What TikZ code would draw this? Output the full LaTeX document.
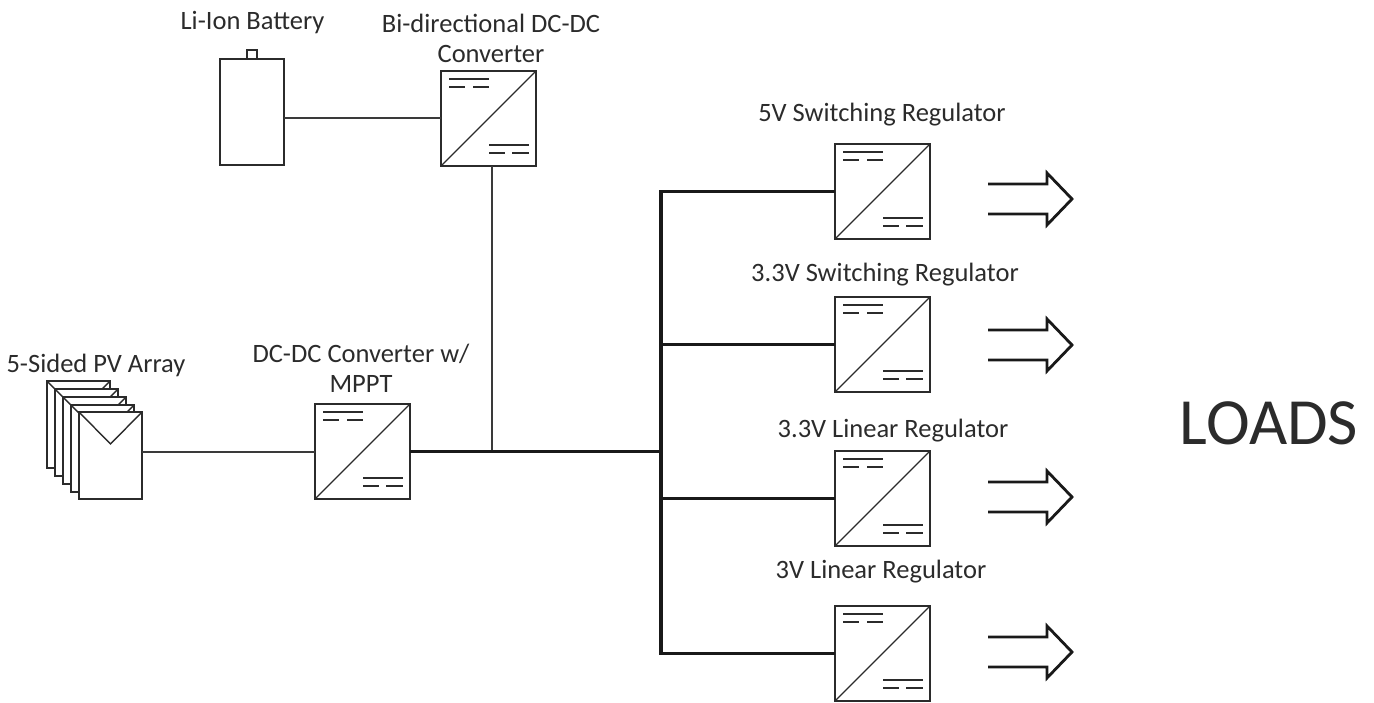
\documentclass[tikz,border=0pt]{standalone}
\usepackage{fontspec}
\setmainfont{Carlito}
\definecolor{ink}{HTML}{2B2B2B}
\definecolor{thinink}{HTML}{3A3A3A}
\tikzset{
  x=1pt,y=-1pt,
  conv/.style={draw=ink,line width=1.8pt,fill=white,inner sep=0pt,outer sep=0pt,minimum width=95pt,minimum height=95pt,anchor=north west},
  inner/.style={draw=ink,line width=1.5pt},
  thinline/.style={draw=thinink,line width=2pt},
  busline/.style={draw=black!90,line width=3.2pt},
  label/.style={text=ink,font=\fontsize{26.5}{30}\selectfont,align=center,inner sep=0pt},
  panel/.style={draw=ink,line width=1.8pt,fill=white,inner sep=0pt,outer sep=0pt,minimum width=63pt,minimum height=87pt,anchor=north west},
  arrowout/.style={draw=black!90,line width=2.8pt,line join=miter},
}
\newcommand{\convbox}[3]{%
  \node[conv] (#1) at (#2,#3) {};
  \draw[inner,line width=1.3pt] (#1.south west) -- (#1.north east);
  \draw[inner] (#2+8,#3+8) -- (#2+48,#3+8);
  \draw[inner] (#2+8,#3+16) -- (#2+24,#3+16) (#2+32,#3+16) -- (#2+48,#3+16);
  \draw[inner] (#2+48,#3+74) -- (#2+88,#3+74);
  \draw[inner] (#2+48,#3+82) -- (#2+64,#3+82) (#2+71,#3+82) -- (#2+88,#3+82);
}
\newcommand{\loadarrow}[2]{%
  \coordinate (#1a) at (988,#2-15);
  \coordinate (#1b) at (988,#2+15);
  \coordinate (#1tip) at (1072,#2);
  \draw[arrowout] (#1a) -- (1047,#2-15) -- (1047,#2-26) -- (#1tip) -- (1047,#2+26) -- (1047,#2+15) -- (#1b);
}
\newcommand{\pvpanel}[3]{%
  \node[panel] (#1) at (#2,#3) {};
  \draw[draw=ink,line width=1.4pt] (#1.north west) -- (#2+31.5,#3+32) -- (#1.north east);
}
\begin{document}
\begin{tikzpicture}
\useasboundingbox (0,0) rectangle (1374,703);
% PV array
\pvpanel{pva}{47}{381}
\pvpanel{pvb}{55}{389}
\pvpanel{pvc}{63}{397}
\pvpanel{pvd}{71}{405}
\pvpanel{pv}{79}{412}
% battery
\node[draw=ink,line width=1.8pt,inner sep=0pt,outer sep=0pt,minimum width=64pt,minimum height=106pt,anchor=north west] (batt) at (220,59) {};
\node[draw=ink,line width=1.5pt,inner sep=0pt,outer sep=0pt,minimum width=10pt,minimum height=9pt,anchor=south] (term) at (252,59) {};
% converters
\convbox{bidir}{441}{71}
\convbox{mppt}{315}{404}
\convbox{sw5}{835}{144}
\convbox{sw33}{835}{297}
\convbox{lin33}{835}{451}
\convbox{lin3}{835}{606}
% wires
\coordinate (tap) at (491.5,452);
\coordinate (bus) at (661,452);
\draw[thinline] (bidir.west -| batt.east) -- (bidir.west);
\draw[thinline] (tap |- bidir.south) -- (tap |- mppt.east);
\draw[thinline] (mppt.west -| pv.east) -- (mppt.west);
\draw[busline] (mppt.east) -- (mppt.east -| bus);
\draw[busline,line cap=rect] (bus |- sw5.west) -- (bus |- lin3.west);
\draw[busline] (bus |- sw5.west) -- (sw5.west);
\draw[busline] (bus |- sw33.west) -- (sw33.west);
\draw[busline] (bus |- lin33.west) -- (lin33.west);
\draw[busline] (bus |- lin3.west) -- (lin3.west);
% load arrows
\loadarrow{aa}{199}
\loadarrow{ab}{345}
\loadarrow{ac}{497}
\loadarrow{ad}{652}
% labels
\node[label] (tbatt) at (252.5,23) {Li-Ion Battery};
\node[label] (tbidir) at (491,38.5) {Bi-directional DC-DC\\Converter};
\node[label] (tsw5) at (882,115) {5V Switching Regulator};
\node[label] (tsw33) at (885,275) {3.3V Switching Regulator};
\node[label] (tlin33) at (893,431) {3.3V Linear Regulator};
\node[label] (tlin3) at (881,572) {3V Linear Regulator};
\node[label] (tpv) at (96,365) {5-Sided PV Array};
\node[label] (tmppt) at (361,368) {DC-DC Converter w/\\MPPT};
\node[text=ink,font=\fontsize{66}{70}\selectfont,inner sep=0pt] (tloads) at (1269,423) {LOADS};
\end{tikzpicture}
\end{document}
